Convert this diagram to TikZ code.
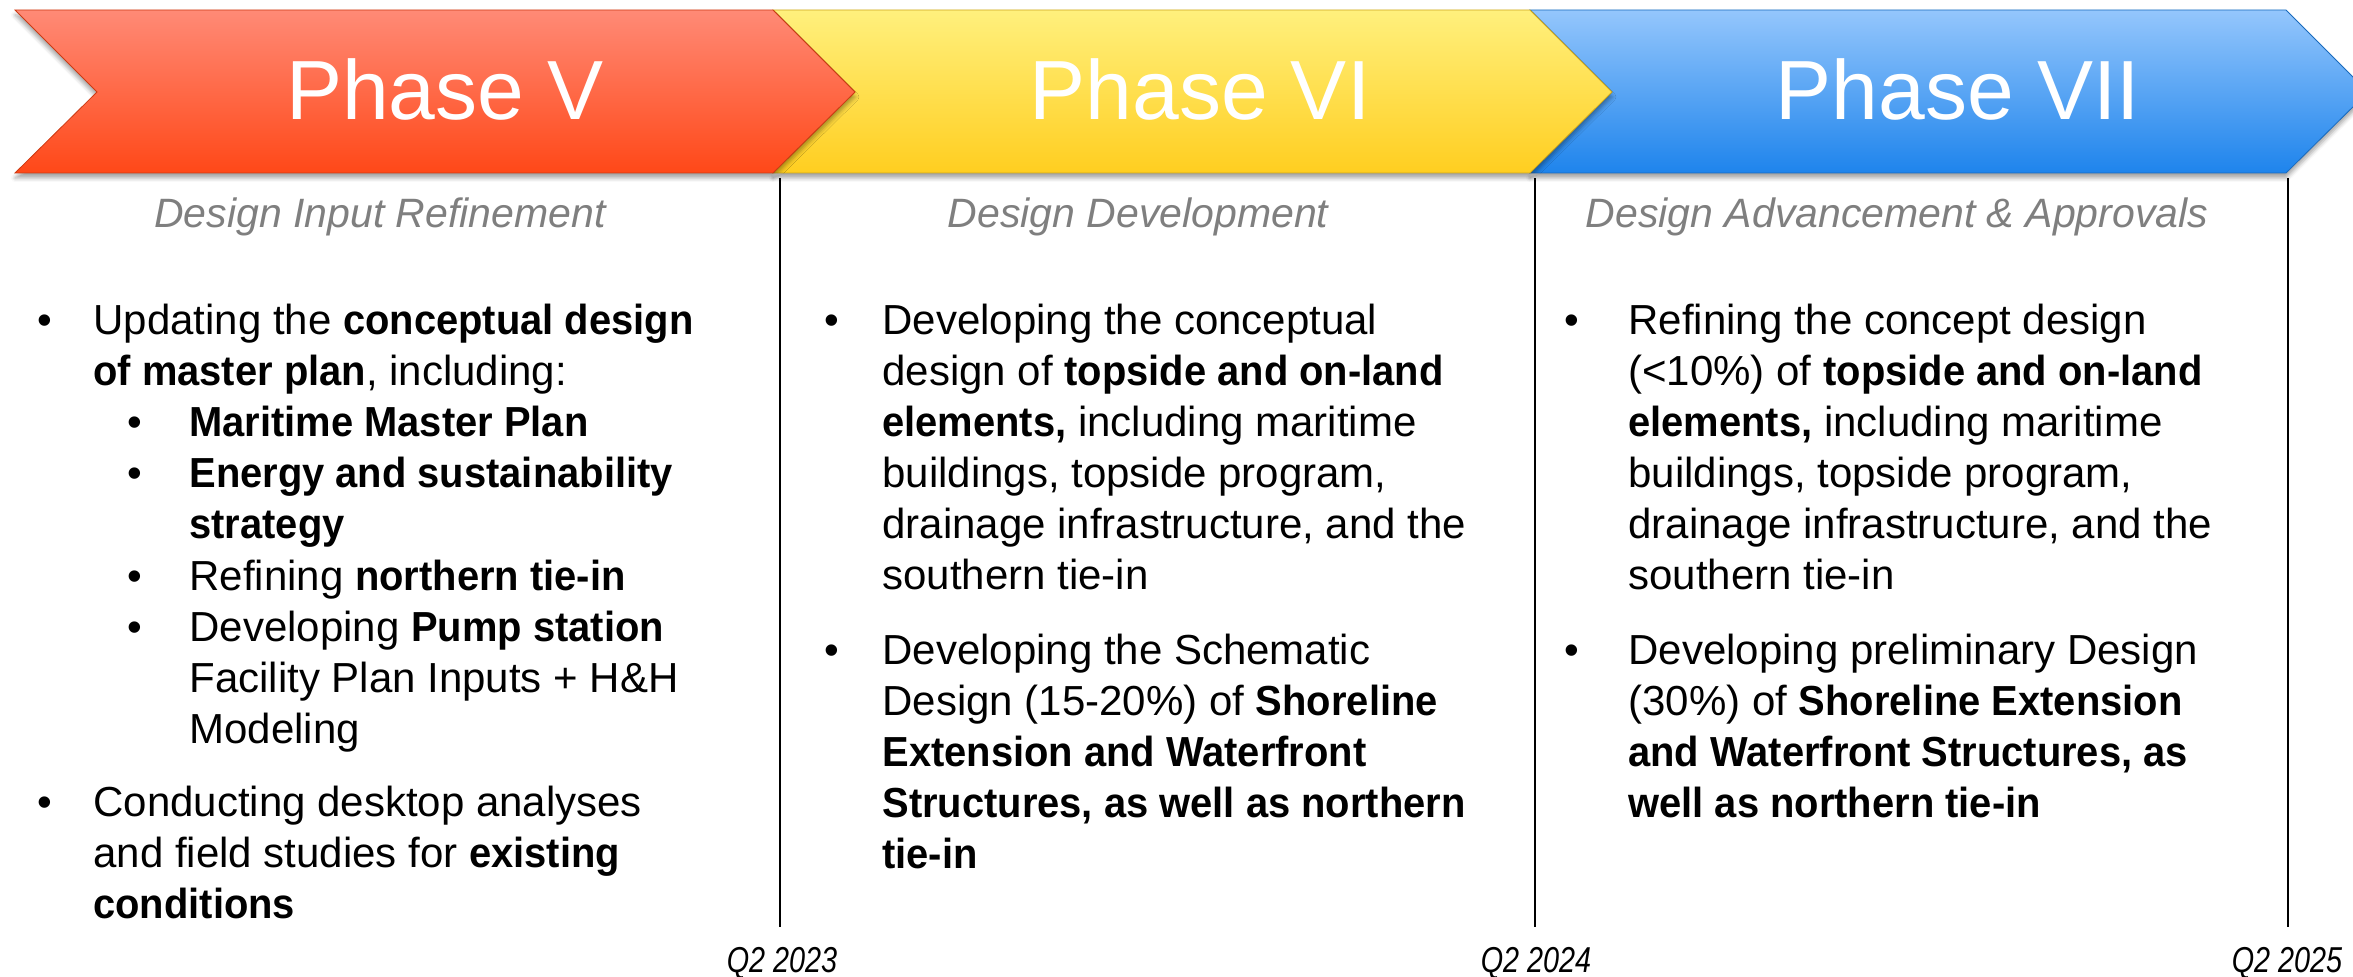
\documentclass[tikz,border=0pt]{standalone}
\usepackage{fontspec}
\setmainfont{Liberation Sans}[BoldFeatures={FakeStretch=0.95}]
\newfontfamily\narrowfont[FakeStretch=0.8]{Liberation Sans}
\usepackage{xcolor}
\usetikzlibrary{shadows.blur}

\definecolor{redtop}{RGB}{255,138,118}
\definecolor{redbot}{RGB}{255,72,24}
\definecolor{yeltop}{RGB}{255,240,125}
\definecolor{yelbot}{RGB}{255,206,32}
\definecolor{bluetop}{RGB}{148,198,252}
\definecolor{bluebot}{RGB}{30,132,236}
\definecolor{subgray}{RGB}{127,127,127}

% lines of one bullet, baseline on the first line
\newcommand{\itemlines}[1]{\begin{tabular}[t]{@{}l@{}}#1\end{tabular}}

\begin{document}
\begin{tikzpicture}[x=0.5pt,y=0.5pt,yscale=-1,xscale=1,
  chevron/.style={blur shadow={shadow xshift=0pt,shadow yshift=-2.5pt,shadow blur radius=2pt,shadow opacity=35}},
  phasetitle/.style={text=white,inner sep=0pt,font=\fontsize{42}{48}\selectfont},
  subtitle/.style={anchor=base,text=subgray,inner sep=0pt,font=\itshape\fontsize{20.5}{24}\selectfont},
  dot/.style={anchor=base,inner sep=0pt,font=\fontsize{21}{25.5}\selectfont},
  bodytext/.style={anchor=base west,inner sep=0pt,font=\fontsize{21}{25.5}\selectfont},
  datelabel/.style={anchor=base,inner sep=0pt,font=\narrowfont\itshape\fontsize{18}{22}\selectfont},
  divider/.style={draw=black,line width=0.6pt}]
\useasboundingbox (0,0) rectangle (2353,977);

%Shape: Chevron [id:phase7]
\draw [chevron,top color=bluetop,bottom color=bluebot,draw=bluebot!80!black,line width=0.4pt] (1530,10) -- (2286,10) -- (2368,92) -- (2286,173) -- (1530,173) -- (1612,92) -- cycle ;
%Shape: Chevron [id:phase6]
\draw [chevron,top color=yeltop,bottom color=yelbot,draw=yelbot!80!black,line width=0.4pt] (773,10) -- (1530,10) -- (1612,92) -- (1530,173) -- (773,173) -- (855,92) -- cycle ;
%Shape: Chevron [id:phase5]
\draw [chevron,top color=redtop,bottom color=redbot,draw=redbot!80!black,line width=0.4pt] (15,10) -- (773,10) -- (855,92) -- (773,173) -- (15,173) -- (97,92) -- cycle ;

% Text Node
\draw (445,89) node (ph5) [phasetitle] {Phase V};
% Text Node
\draw (1200,89) node (ph6) [phasetitle] {Phase VI};
% Text Node
\draw (1958,89) node (ph7) [phasetitle] {Phase VII};

% Text Node
\draw (380,228) node (sub5) [subtitle] {Design Input Refinement};
% Text Node
\draw (1138,228) node (sub6) [subtitle] {Design Development};
% Text Node
\draw (1897,228) node (sub7) [subtitle] {Design Advancement \& Approvals};

%Straight Lines [id:div1]
\coordinate (d1top) at (780,178);
\coordinate (d1bot) at (780,927);
\draw [divider] (d1top) -- (d1bot) ;
%Straight Lines [id:div2]
\coordinate (d2top) at (1535,178);
\coordinate (d2bot) at (1535,927);
\draw [divider] (d2top) -- (d2bot) ;
%Straight Lines [id:div3]
\coordinate (d3top) at (2288,178);
\coordinate (d3bot) at (2288,927);
\draw [divider] (d3top) -- (d3bot) ;

% Text Node
\draw (782,972) node (q23) [datelabel] {Q2 2023};
% Text Node
\draw (1536,972) node (q24) [datelabel] {Q2 2024};
% Text Node
\draw (2287,972) node (q25) [datelabel] {Q2 2025};

% Column Phase V
\draw (45,335) node (b5a) [dot] {•};
\draw (93,335) node (t5a) [bodytext] {\itemlines{Updating the \textbf{conceptual design}\\\textbf{of master plan}, including:}};
\draw (135,437) node (b5s1) [dot] {•};
\draw (189,437) node (t5s1) [bodytext] {\textbf{Maritime Master Plan}};
\draw (135,488) node (b5s2) [dot] {•};
\draw (189,488) node (t5s2) [bodytext] {\itemlines{\textbf{Energy and sustainability}\\\textbf{strategy}}};
\draw (135,590) node (b5s3) [dot] {•};
\draw (189,590) node (t5s3) [bodytext] {Refining \textbf{northern tie-in}};
\draw (135,641) node (b5s4) [dot] {•};
\draw (189,641) node (t5s4) [bodytext] {\itemlines{Developing \textbf{Pump station}\\Facility Plan Inputs + H\&H\\Modeling}};
\draw (45,816) node (b5b) [dot] {•};
\draw (93,816) node (t5b) [bodytext] {\itemlines{Conducting desktop analyses\\and field studies for \textbf{existing}\\\textbf{conditions}}};

% Column Phase VI
\draw (832,335) node (b6a) [dot] {•};
\draw (882,335) node (t6a) [bodytext] {\itemlines{Developing the conceptual\\design of \textbf{topside and on-land}\\\textbf{elements,} including maritime\\buildings, topside program,\\drainage infrastructure, and the\\southern tie-in}};
\draw (832,664) node (b6b) [dot] {•};
\draw (882,664) node (t6b) [bodytext] {\itemlines{Developing the Schematic\\Design (15-20\%) of \textbf{Shoreline}\\\textbf{Extension and Waterfront}\\\textbf{Structures, as well as northern}\\\textbf{tie-in}}};

% Column Phase VII
\draw (1572,335) node (b7a) [dot] {•};
\draw (1628,335) node (t7a) [bodytext] {\itemlines{Refining the concept design\\(<10\%) of \textbf{topside and on-land}\\\textbf{elements,} including maritime\\buildings, topside program,\\drainage infrastructure, and the\\southern tie-in}};
\draw (1572,664) node (b7b) [dot] {•};
\draw (1628,664) node (t7b) [bodytext] {\itemlines{Developing preliminary Design\\(30\%) of \textbf{Shoreline Extension}\\\textbf{and Waterfront Structures, as}\\\textbf{well as northern tie-in}}};

\end{tikzpicture}
\end{document}
